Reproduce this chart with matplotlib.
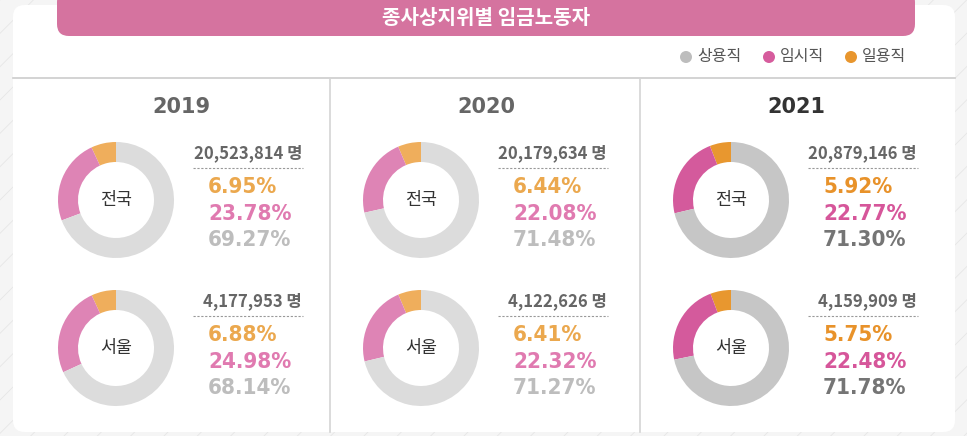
import matplotlib
matplotlib.use("Agg")
import matplotlib.pyplot as plt
from matplotlib.patches import FancyBboxPatch, Rectangle, Circle

plt.rcParams['font.family'] = ['Noto Sans CJK KR', 'DejaVu Sans']

# data
years = ["2019", "2020", "2021"]
regions = ["전국", "서울"]
totals = {
    "2019": [20523814, 4177953],
    "2020": [20179634, 4122626],
    "2021": [20879146, 4159909],
}
# share per type: 일용직, 임시직, 상용직
daily = {"2019": [6.95, 6.88], "2020": [6.44, 6.41], "2021": [5.92, 5.75]}
temporary = {"2019": [23.78, 24.98], "2020": [22.08, 22.32], "2021": [22.77, 22.48]}
regular = {"2019": [69.27, 68.14], "2020": [71.48, 71.27], "2021": [71.30, 71.78]}
legend_labels = ["상용직", "임시직", "일용직"]
title = "종사상지위별 임금노동자"

W, H = 967, 436
fig = plt.figure(figsize=(W / 100, H / 100), dpi=100)
ax = fig.add_axes([0, 0, 1, 1])
ax.set_xlim(0, W)
ax.set_ylim(0, H)
ax.autoscale(False)
ax.axis("off")


def Y(y):
    return H - y


# background with faint diagonal hatch
plt.rcParams['hatch.linewidth'] = 0.6
ax.add_patch(Rectangle((0, 0), W, H, facecolor="#f5f5f5", edgecolor="#e6e6e6",
                       hatch="/", linewidth=0, zorder=0))
# white card
ax.add_patch(FancyBboxPatch((13, Y(432)), 942, 427, boxstyle="round,pad=0,rounding_size=12",
                            facecolor="white", edgecolor="none", zorder=1))
# title banner
ax.add_patch(FancyBboxPatch((57, Y(36)), 858, 46, boxstyle="round,pad=0,rounding_size=12",
                            facecolor="#d5739f", edgecolor="none", zorder=2))
ax.text(486, Y(18), title, color="white", fontsize=14.5, fontweight="bold",
        ha="center", va="center", zorder=3)

# legend
leg_colors = ["#bdbdbd", "#d65c9d", "#e8962e"]
for x, lab, c in zip([686, 769, 851], legend_labels, leg_colors):
    ax.add_patch(Circle((x, Y(57)), 6, facecolor=c, edgecolor="none", zorder=3))
    ax.text(x + 11, Y(57), lab, fontsize=11.5, color="#555555", ha="left", va="center", zorder=3)

# grid lines
ax.plot([13, 955], [Y(78), Y(78)], color="#cccccc", lw=1.2, zorder=2)
for x in [330, 640]:
    ax.plot([x, x], [Y(78), Y(432)], color="#d4d4d4", lw=1.2, zorder=2)

light = dict(ring=["#efae5c", "#de84b5", "#dcdcdc"], txt=["#eba84e", "#e07ab0", "#bdbdbd"],
             year="#666666")
dark = dict(ring=["#e8972f", "#d45a9c", "#c6c6c6"], txt=["#e8922a", "#d6569a", "#757575"],
            year="#333333")

centers_x = [116, 421, 731]
centers_y = [200, 348]

for yr, cx in zip(years, centers_x):
    st = dark if yr == "2021" else light
    ax.text(cx + 65, Y(107), yr, fontsize=15, fontweight="bold", color=st["year"],
            ha="center", va="center", family="DejaVu Sans", zorder=3)
    for i, (reg, cy) in enumerate(zip(regions, centers_y)):
        vals = [daily[yr][i], temporary[yr][i], regular[yr][i]]
        wedges, _ = ax.pie(vals, colors=st["ring"], startangle=90, counterclock=True,
                           radius=58, center=(cx, Y(cy)), frame=True,
                           wedgeprops=dict(width=20, linewidth=0))
        for w in wedges:
            w.set_zorder(3)
        ax.text(cx, Y(cy), reg, fontsize=12.5, color="#333333", ha="center", va="center", zorder=4)
        ax.text(cx + 186, Y(cy - 47), f"{totals[yr][i]:,} 명", fontsize=12, fontweight="bold",
                color="#666666", ha="right", va="center", zorder=3)
        ax.plot([cx + 77, cx + 187], [Y(cy - 32), Y(cy - 32)], color="#999999", lw=0.8,
                ls=(0, (2, 1.5)), zorder=3)
        for k, (v, c) in enumerate(zip(vals, st["txt"])):
            ax.text(cx + 92, Y(cy - 13 + 26.5 * k), f"{v:.2f}%", fontsize=16, fontweight="bold",
                    fontstretch="condensed", color=c, ha="left", va="center",
                    family="DejaVu Sans", zorder=3)

ax.set_xlim(0, W)
ax.set_ylim(0, H)
ax.set_aspect("auto")
fig.savefig("out.png", dpi=100)
